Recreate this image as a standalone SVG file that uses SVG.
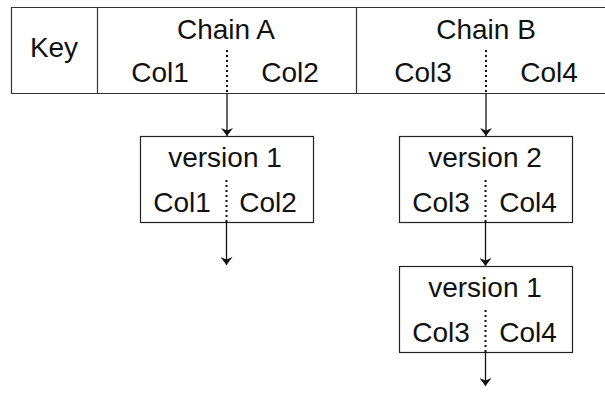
<svg xmlns="http://www.w3.org/2000/svg" width="605" height="397" viewBox="0 0 605 397">
<defs>
<style>
text{font-family:"Liberation Sans",Arial,sans-serif;font-size:28px;fill:#111;text-anchor:middle}
.frame{fill:none;stroke:#333;stroke-width:1.2}
.box{fill:#fff;stroke:#222;stroke-width:1.2}
.dot{stroke:#111;stroke-width:2;stroke-dasharray:2 3;fill:none}
.arr{stroke:#111;stroke-width:1.3;fill:none;marker-end:url(#ah)}
</style>
<marker id="ah" viewBox="0 0 8 12" refX="8" refY="6" markerWidth="8" markerHeight="12" markerUnits="userSpaceOnUse" orient="auto">
<path d="M0,0 L8,6 L0,12 L2.5,6 Z" fill="#111"/>
</marker>
</defs>
<g id="header">
<path class="frame" d="M605,7.5 H11.5 V93.5 H605 M97.5,7.5 V93.5 M356.5,7.5 V93.5"/>
<text x="54" y="57">Key</text>
<text x="226" y="39">Chain A</text>
<text x="160" y="82">Col1</text>
<text x="290" y="82">Col2</text>
<text x="486" y="39">Chain B</text>
<text x="423" y="82">Col3</text>
<text x="549" y="82">Col4</text>
<line class="dot" x1="227" y1="50" x2="227" y2="93"/>
<line class="dot" x1="486" y1="50" x2="486" y2="93"/>
</g>
<g id="a_v1">
<rect class="box" x="140.5" y="136.5" width="173" height="86"/>
<text x="225" y="167">version 1</text>
<text x="182" y="212">Col1</text>
<text x="268" y="212">Col2</text>
<line class="dot" x1="226.5" y1="180" x2="226.5" y2="222"/>
</g>
<g id="b_v2">
<rect class="box" x="399.5" y="136.5" width="173" height="86"/>
<text x="485" y="167">version 2</text>
<text x="441" y="212">Col3</text>
<text x="528" y="212">Col4</text>
<line class="dot" x1="485.5" y1="180" x2="485.5" y2="222"/>
</g>
<g id="b_v1">
<rect class="box" x="399.5" y="266.5" width="173" height="86"/>
<text x="485" y="297">version 1</text>
<text x="441" y="342">Col3</text>
<text x="528" y="342">Col4</text>
<line class="dot" x1="485.5" y1="310" x2="485.5" y2="352"/>
</g>
<g id="connectors">
<line class="arr" x1="227" y1="93" x2="227" y2="136"/>
<line class="arr" x1="486" y1="93" x2="486" y2="136"/>
<line class="arr" x1="226.5" y1="222" x2="226.5" y2="265"/>
<line class="arr" x1="485.5" y1="222" x2="485.5" y2="266"/>
<line class="arr" x1="485.5" y1="352" x2="485.5" y2="386"/>
</g>
</svg>
